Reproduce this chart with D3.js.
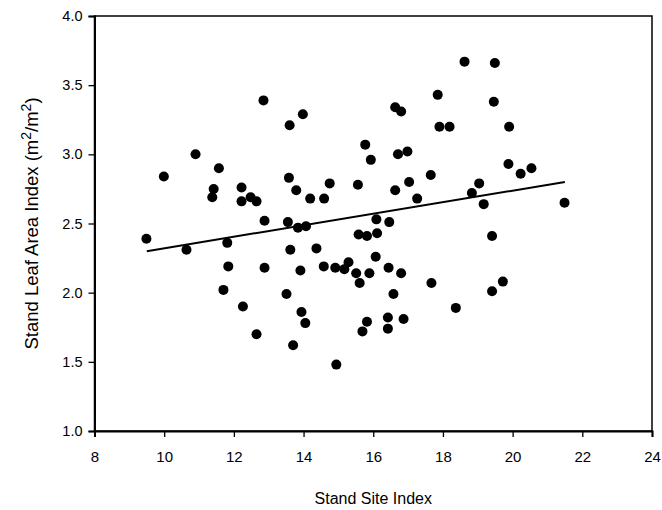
<!DOCTYPE html>
<html>
<head>
<meta charset="utf-8">
<script src="https://cdn.jsdelivr.net/npm/d3@7"></script>
<style>
html,body{margin:0;padding:0;background:#fff;}
svg{display:block;font-family:"Liberation Sans",Arial,sans-serif;}
</style>
</head>
<body>
<svg id="chart" width="662" height="510"></svg>
<script>
// Stand site index (x) vs stand leaf area index (y)
const siteIndex = [
  12.85,13.98,13.60,15.77,15.93,10.90,9.99,11.57,11.42,11.38,12.22,12.48,12.22,12.65,13.58,13.79,14.19,14.59,14.75,15.56,12.88,13.55,16.09,
  13.84,14.07,9.49,10.64,11.81,15.58,15.82,16.11,13.62,14.37,11.84,12.88,13.91,14.58,14.91,15.17,15.29,15.51,15.61,15.89,16.07,11.70,12.26,13.51,13.94,14.05,12.65,13.70,14.94,15.82,15.69,
  18.62,19.49,17.85,19.46,16.63,16.80,17.90,18.19,19.90,16.71,16.98,19.88,20.23,20.54,17.65,17.03,16.63,17.26,19.04,18.83,19.17,21.49,16.46,
  19.41,16.44,16.80,16.58,17.67,19.72,19.41,18.37,16.42,16.42,16.87
];
const leafAreaIndex = [
  3.39,3.29,3.21,3.07,2.96,3.00,2.84,2.90,2.75,2.69,2.76,2.69,2.66,2.66,2.83,2.74,2.68,2.68,2.79,2.78,2.52,2.51,2.53,
  2.47,2.48,2.39,2.31,2.36,2.42,2.41,2.43,2.31,2.32,2.19,2.18,2.16,2.19,2.18,2.17,2.22,2.14,2.07,2.14,2.26,2.02,1.90,1.99,1.86,1.78,1.70,1.62,1.48,1.79,1.72,
  3.67,3.66,3.43,3.38,3.34,3.31,3.20,3.20,3.20,3.00,3.02,2.93,2.86,2.90,2.85,2.80,2.74,2.68,2.79,2.72,2.64,2.65,2.51,
  2.41,2.18,2.14,1.99,2.07,2.08,2.01,1.89,1.82,1.74,1.81
];
// fitted regression line endpoints
const fitX = [9.5, 21.5];
const fitY = [2.30, 2.80];
const xTicks = [8,10,12,14,16,18,20,22,24];
const yTicks = [1.0,1.5,2.0,2.5,3.0,3.5,4.0];
const xLabel = "Stand Site Index";

const svg = d3.select("#chart");
const m = {left:94.5, right:652, top:16, bottom:431};
const x = d3.scaleLinear().domain([8,24]).range([m.left, m.right]);
const y = d3.scaleLinear().domain([1,4]).range([m.bottom, m.top]);

// frame
svg.append("rect").attr("x",m.left).attr("y",m.top)
  .attr("width",m.right-m.left).attr("height",m.bottom-m.top)
  .attr("fill","none").attr("stroke","#000").attr("stroke-width",1.5);

const xAxis = svg.append("g").attr("transform",`translate(0,${m.bottom})`)
  .call(d3.axisBottom(x).tickValues(xTicks).tickFormat(d3.format("d")).tickSizeOuter(0).tickSize(6).tickPadding(14));
const yAxis = svg.append("g").attr("transform",`translate(${m.left},0)`)
  .call(d3.axisLeft(y).tickValues(yTicks).tickFormat(d3.format(".1f")).tickSizeOuter(0).tickSize(6).tickPadding(6));
[xAxis,yAxis].forEach(g=>{
  g.select(".domain").attr("stroke","#000").attr("stroke-width",2);
  g.selectAll(".tick line").attr("stroke","#000").attr("stroke-width",1.3);
  g.selectAll(".tick text").attr("fill","#000").attr("font-family","'Liberation Sans',Arial,sans-serif");
});
xAxis.selectAll(".tick text").attr("font-size",15);
yAxis.selectAll(".tick text").attr("font-size",14.5);

// regression line
svg.append("line")
  .attr("x1",x(fitX[0])).attr("y1",y(fitY[0]))
  .attr("x2",x(fitX[1])).attr("y2",y(fitY[1]))
  .attr("stroke","#000").attr("stroke-width",2);

// points
svg.append("g").selectAll("circle")
  .data(siteIndex.map((d,i)=>[d,leafAreaIndex[i]]))
  .join("circle")
  .attr("cx",d=>x(d[0])).attr("cy",d=>y(d[1])).attr("r",5).attr("fill","#000");

// axis titles
svg.append("text").attr("x",(m.left+m.right)/2).attr("y",504)
  .attr("text-anchor","middle").attr("font-size",16).attr("fill","#000").text(xLabel);

const yl = svg.append("text")
  .attr("transform",`translate(38,${(m.top+m.bottom)/2}) rotate(-90)`)
  .attr("text-anchor","middle").attr("font-size",18.5).attr("fill","#000");
yl.append("tspan").text("Stand Leaf Area Index (m");
yl.append("tspan").attr("dy",-7).attr("font-size",14).text("2");
yl.append("tspan").attr("dy",7).text("/m");
yl.append("tspan").attr("dy",-7).attr("font-size",14).text("2");
yl.append("tspan").attr("dy",7).text(")");
</script>
</body>
</html>
